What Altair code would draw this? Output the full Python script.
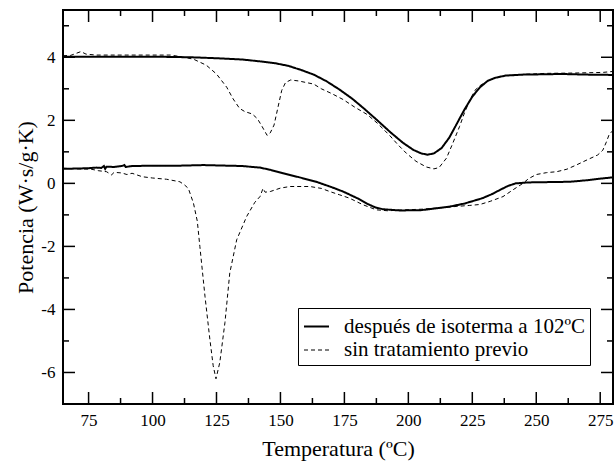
import altair as alt
import pandas as pd

L1 = "después de isoterma a 102ºC"
L2 = "sin tratamiento previo"

# upper curve, after isotherm (solid)
us_T = [65, 80, 100, 115, 125, 135, 142, 148, 153, 158, 163, 168, 173, 178, 183, 188, 193, 198, 202, 205, 207.5, 210, 213, 216, 219, 222, 225, 228, 231, 234, 238, 245, 260, 270, 280]
us_v = [4.02, 4.02, 4.02, 4.0, 3.97, 3.93, 3.87, 3.81, 3.73, 3.6, 3.45, 3.24, 2.98, 2.69, 2.35, 1.99, 1.62, 1.28, 1.06, 0.95, 0.91, 0.95, 1.12, 1.45, 1.9, 2.35, 2.75, 3.05, 3.25, 3.35, 3.42, 3.45, 3.47, 3.45, 3.44]

# upper curve, no treatment (dashed)
ud_T = [65, 68, 70, 72, 74, 78, 90, 100, 107, 111, 116, 121, 125, 129, 131.5, 134, 136, 139, 141, 142.5, 144.8, 146, 147.5, 149, 150.5, 152, 154, 157, 160, 163, 166, 170, 174.5, 179, 184, 188, 192.7, 196, 199.3, 203, 207, 210, 212, 214.9, 217, 220, 222, 224, 226, 228, 231, 234, 238, 245, 254, 265, 276, 280]
ud_v = [4.05, 4.06, 4.12, 4.18, 4.1, 4.07, 4.07, 4.07, 4.07, 4.02, 3.94, 3.75, 3.47, 3.05, 2.68, 2.38, 2.28, 2.2, 2.05, 1.85, 1.52, 1.6, 1.85, 2.4, 2.95, 3.2, 3.28, 3.25, 3.2, 3.15, 3.0, 2.85, 2.66, 2.42, 2.18, 1.9, 1.52, 1.22, 0.95, 0.7, 0.52, 0.46, 0.5, 0.8, 1.2, 1.8, 2.25, 2.63, 2.95, 3.1, 3.25, 3.35, 3.42, 3.46, 3.49, 3.5, 3.52, 3.55]

# lower curve, after isotherm (solid)
ls_T = [65, 70, 75, 78, 80, 81, 81.5, 82, 85, 88, 89, 89.5, 92, 100, 110, 120, 125, 135, 142, 146, 151, 157, 164, 170, 174.5, 180, 184, 187, 190, 196.6, 205, 210, 216, 222, 229, 233, 236, 239, 242, 247, 255, 263, 270, 275, 280]
ls_v = [0.46, 0.47, 0.48, 0.5, 0.49, 0.55, 0.46, 0.53, 0.52, 0.55, 0.58, 0.52, 0.55, 0.56, 0.56, 0.58, 0.57, 0.55, 0.5, 0.43, 0.32, 0.2, 0.05, -0.12, -0.26, -0.47, -0.65, -0.76, -0.82, -0.86, -0.85, -0.8, -0.74, -0.64, -0.47, -0.33, -0.2, -0.08, 0.0, 0.03, 0.04, 0.05, 0.1, 0.15, 0.19]

# lower curve, no treatment (dashed)
ld_T = [65, 70, 76, 79, 82, 84, 85, 88, 90, 92, 96, 100, 105.5, 110.7, 112.5, 114, 116, 117.5, 118.5, 120.5, 122.4, 123.7, 124.8, 126.3, 128.3, 130.2, 132.9, 136.8, 140, 142, 143.2, 144, 146, 150, 153.7, 161.5, 166, 169.3, 173, 177, 182.3, 187.5, 192, 196, 205, 212, 219, 224, 228, 232, 237, 241, 244.8, 247, 250, 254, 258, 262, 265.6, 270, 274, 276, 277.4, 278.5, 280]
ld_v = [0.48, 0.46, 0.45, 0.4, 0.37, 0.27, 0.35, 0.33, 0.28, 0.32, 0.21, 0.17, 0.13, 0.05, -0.05, -0.16, -0.63, -1.2, -2.0, -3.58, -4.94, -5.78, -6.2, -5.68, -4.42, -2.84, -1.79, -1.05, -0.6, -0.42, -0.16, -0.28, -0.26, -0.15, -0.1, -0.1, -0.16, -0.26, -0.36, -0.47, -0.68, -0.84, -0.87, -0.85, -0.82, -0.78, -0.73, -0.7, -0.67, -0.57, -0.42, -0.2, 0.0, 0.15, 0.28, 0.34, 0.37, 0.45, 0.58, 0.75, 0.9, 1.05, 1.31, 1.55, 1.68]

x_major = [75, 100, 125, 150, 175, 200, 225, 250, 275]
x_minor = [87.5, 112.5, 137.5, 162.5, 187.5, 212.5, 237.5, 262.5]
y_major = [-6, -4, -2, 0, 2, 4]
y_minor = [-5, -3, -1, 1, 3, 5]

W, H = 550, 394
FONT = "Liberation Serif"

rows = []
for T, v in zip(us_T, us_v):
    rows.append({"T": T, "v": v, "curve": "us", "serie": L1})
for T, v in zip(ud_T, ud_v):
    rows.append({"T": T, "v": v, "curve": "ud", "serie": L2})
for T, v in zip(ls_T, ls_v):
    rows.append({"T": T, "v": v, "curve": "ls", "serie": L1})
for T, v in zip(ld_T, ld_v):
    rows.append({"T": T, "v": v, "curve": "ld", "serie": L2})
df = pd.DataFrame(rows)

xenc = alt.X("T:Q", title="Temperatura (ºC)",
             scale=alt.Scale(domain=[65, 280], nice=False, zero=False),
             axis=alt.Axis(values=x_major, ticks=False, domain=False, grid=False,
                           labelExpr="'' + datum.value",
                           labelFont=FONT, labelFontSize=17, labelColor="black",
                           labelPadding=8, titleFont=FONT, titleFontSize=22,
                           titleFontWeight="normal", titleColor="black",
                           titleY=44, titleBaseline="middle"))
yenc = alt.Y("v:Q", title="Potencia (W·s/g·K)",
             scale=alt.Scale(domain=[-7, 5.5], nice=False, zero=False),
             axis=alt.Axis(values=y_major, ticks=False, domain=False, grid=False,
                           labelExpr="'' + datum.value",
                           labelFont=FONT, labelFontSize=17, labelColor="black",
                           labelPadding=8, titleFont=FONT, titleFontSize=22,
                           titleFontWeight="normal", titleColor="black",
                           titleX=-38, titleY=H / 2, titleBaseline="middle"))

leg = alt.Legend(title=None, orient="none", legendX=235, legendY=298,
                 strokeColor="black", fillColor="white", padding=5,
                 symbolType="stroke", symbolSize=625, symbolStrokeColor="black",
                 labelFont=FONT, labelFontSize=21, labelColor="black",
                 labelOffset=14, rowPadding=0, labelLimit=400)

lines = alt.Chart(df).mark_line(color="black").encode(
    x=xenc, y=yenc,
    strokeDash=alt.StrokeDash("serie:N", scale=alt.Scale(domain=[L1, L2], range=[[1, 0], [4, 3]]), legend=leg),
    strokeWidth=alt.StrokeWidth("serie:N", scale=alt.Scale(domain=[L1, L2], range=[2, 1]), legend=leg),
    detail="curve:N",
)

xt_major = pd.DataFrame({"T": x_major})
xt_minor = pd.DataFrame({"T": x_minor})
yt_major = pd.DataFrame({"v": y_major})
yt_minor = pd.DataFrame({"v": y_minor})

def xticks(d, L):
    bot = alt.Chart(d).mark_rule(color="black", strokeWidth=1.5).encode(
        x=xenc, y=alt.value(H), y2=alt.value(H - L))
    top = alt.Chart(d).mark_rule(color="black", strokeWidth=1.5).encode(
        x=xenc, y=alt.value(0), y2=alt.value(L))
    return [bot, top]

def yticks(d, L):
    left = alt.Chart(d).mark_rule(color="black", strokeWidth=1.5).encode(
        y=yenc, x=alt.value(0), x2=alt.value(L))
    right = alt.Chart(d).mark_rule(color="black", strokeWidth=1.5).encode(
        y=yenc, x=alt.value(W), x2=alt.value(W - L))
    return [left, right]

layers = [lines] + xticks(xt_major, 12) + xticks(xt_minor, 6) + yticks(yt_major, 12) + yticks(yt_minor, 6)

chart = alt.layer(*layers).properties(
    width=W, height=H,
    autosize=alt.AutoSizeParams(type="none"),
    padding={"left": 63, "top": 10, "right": 2, "bottom": 59},
    background="white",
).configure_view(stroke="black", strokeWidth=2)

chart.save("out.html", embed_options={"renderer": "svg", "actions": False})
